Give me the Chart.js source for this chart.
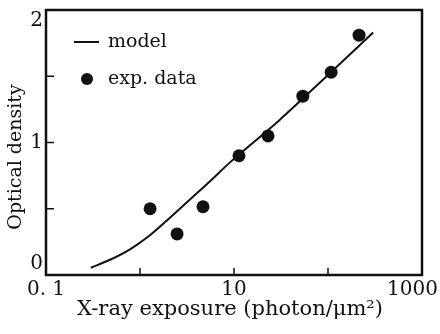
<!DOCTYPE html>
<html>
<head>
<meta charset="utf-8">
<script src="https://cdn.jsdelivr.net/npm/chart.js@4/dist/chart.umd.min.js"></script>
<style>
  html, body { margin: 0; padding: 0; background: #fff; }
  canvas { display: block; }
</style>
</head>
<body>
<canvas id="chart" width="440" height="334"></canvas>
<script>
// model curve (exposure, OD)
const modelX = [0.30, 0.48, 0.783, 1.277, 2.08, 3.40, 5.56, 9.06, 30, 100, 302];
const modelY = [0.055, 0.115, 0.194, 0.300, 0.432, 0.570, 0.708, 0.850, 1.165, 1.51, 1.83];

// experimental points
const expX = [1.28, 2.48, 4.68, 11.3, 23, 54, 108, 214];
const expY = [0.50, 0.31, 0.515, 0.90, 1.05, 1.35, 1.53, 1.81];

const xTicks = [0.1, 1, 10, 100, 1000];
const xTickLabels = ['0. 1', '', '10', '', '1000'];
const yTicks = [0, 0.5, 1, 1.5, 2];
const yTickLabels = ['0', '', '1', '', '2'];

const seriesNames = ['model', 'exp. data'];
const xTitle = 'X-ray exposure (photon/\u03bcm\u00b2)';
const yTitle = 'Optical density';

const INK = '#111';
const FONT = '"DejaVu Serif", "Liberation Serif", serif';

const axesPlugin = {
  id: 'axesPlugin',
  afterDraw(chart) {
    const { ctx, chartArea: a, scales } = chart;
    const xs = scales.x, ys = scales.y;
    ctx.save();
    ctx.strokeStyle = INK;
    ctx.fillStyle = INK;

    // frame
    ctx.lineWidth = 2.5;
    ctx.strokeRect(a.left, a.top, a.right - a.left, a.bottom - a.top);

    // inward ticks
    ctx.lineWidth = 1.5;
    ctx.beginPath();
    xTicks.forEach(v => {
      const px = xs.getPixelForValue(v);
      ctx.moveTo(px, a.bottom);
      ctx.lineTo(px, a.bottom - 7);
    });
    yTicks.forEach(v => {
      const py = ys.getPixelForValue(v);
      ctx.moveTo(a.left, py);
      ctx.lineTo(a.left + 8, py);
    });
    ctx.stroke();

    // tick labels
    ctx.font = '20px ' + FONT;
    ctx.textBaseline = 'middle';
    xTicks.forEach((v, i) => {
      if (!xTickLabels[i]) return;
      let px = xs.getPixelForValue(v);
      ctx.textAlign = 'center';
      if (i === xTicks.length - 1) { ctx.textAlign = 'right'; px = 438; }
      ctx.fillText(xTickLabels[i], px, a.bottom + 15);
    });
    ctx.textAlign = 'right';
    yTicks.forEach((v, i) => {
      if (!yTickLabels[i]) return;
      let py = ys.getPixelForValue(v);
      if (i === 0) py -= 11;
      if (i === yTicks.length - 1) py += 11;
      ctx.fillText(yTickLabels[i], a.left - 3, py);
    });

    // axis titles
    ctx.textAlign = 'center';
    ctx.font = '21px ' + FONT;
    ctx.fillText(xTitle, (a.left + a.right) / 2 - 4, 310);
    ctx.save();
    ctx.font = '19px ' + FONT;
    ctx.translate(16, 157);
    ctx.rotate(-Math.PI / 2);
    ctx.fillText(yTitle, 0, 0);
    ctx.restore();

    // legend
    ctx.font = '19px ' + FONT;
    ctx.textAlign = 'left';
    ctx.lineWidth = 2;
    ctx.beginPath();
    ctx.moveTo(a.left + 28, 42);
    ctx.lineTo(a.left + 53, 42);
    ctx.stroke();
    ctx.fillText(seriesNames[0], a.left + 62, 42);
    ctx.beginPath();
    ctx.arc(a.left + 41, 79, 6, 0, Math.PI * 2);
    ctx.fill();
    ctx.fillText(seriesNames[1], a.left + 62, 79);
    ctx.restore();
  }
};

new Chart(document.getElementById('chart'), {
  type: 'line',
  data: {
    datasets: [
      {
        label: seriesNames[0],
        data: modelX.map((x, i) => ({ x, y: modelY[i] })),
        borderColor: INK,
        borderWidth: 2,
        pointRadius: 0,
        cubicInterpolationMode: 'monotone',
        fill: false
      },
      {
        label: seriesNames[1],
        data: expX.map((x, i) => ({ x, y: expY[i] })),
        showLine: false,
        pointRadius: 6.5,
        pointBackgroundColor: INK,
        pointBorderColor: INK,
        pointBorderWidth: 0
      }
    ]
  },
  options: {
    responsive: false,
    animation: false,
    layout: { padding: { left: 46, top: 10, right: 18, bottom: 59 } },
    plugins: { legend: { display: false }, tooltip: { enabled: false } },
    scales: {
      x: { type: 'logarithmic', min: 0.1, max: 1000, display: false },
      y: { type: 'linear', min: 0, max: 2, display: false }
    }
  },
  plugins: [axesPlugin]
});
</script>
</body>
</html>
